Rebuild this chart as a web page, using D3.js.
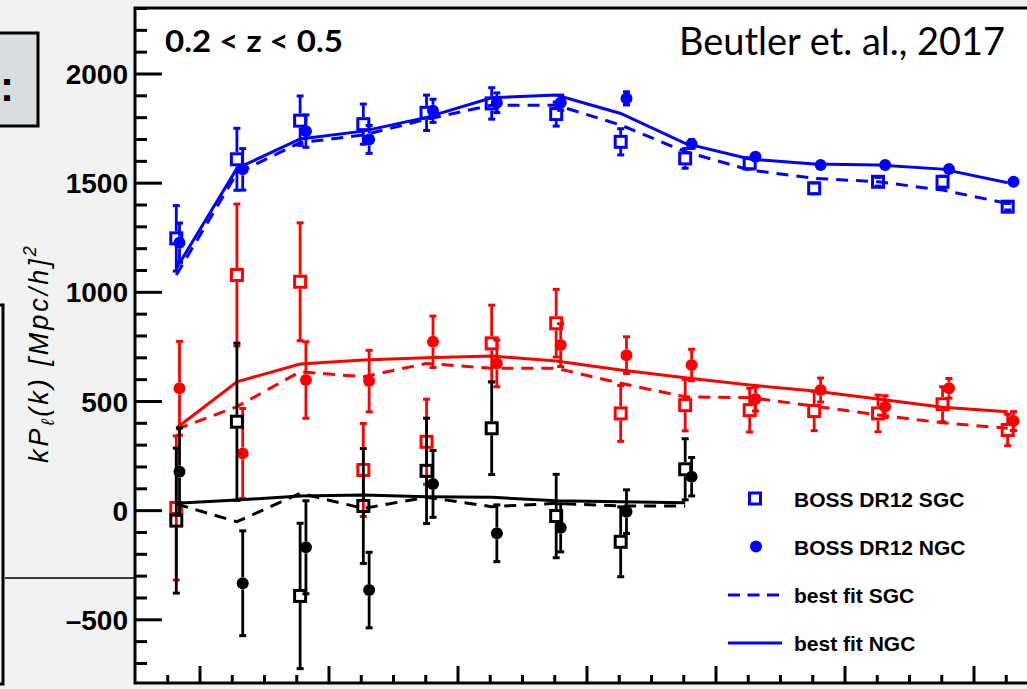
<!DOCTYPE html>
<html>
<head>
<meta charset="utf-8">
<script src="https://cdn.jsdelivr.net/npm/d3@7"></script>
<style>
  html, body { margin: 0; padding: 0; background: #f2f2f2; }
  svg { display: block; }
</style>
</head>
<body>
<svg id="chart" width="1027" height="689"></svg>
<script>
// Power-spectrum multipoles, BOSS DR12, 0.2 < z < 0.5
const kSGC = [0.0164, 0.0258, 0.0356, 0.0454, 0.0552, 0.0653, 0.0753, 0.0853, 0.0953, 0.1053, 0.1153, 0.1252, 0.1352, 0.1453];
const kNGC = [0.0169, 0.0267, 0.0365, 0.0463, 0.0562, 0.0661, 0.0760, 0.0862, 0.0963, 0.1062, 0.1163, 0.1263, 0.1362, 0.1462];

// monopole (l = 0)
const monoSGC    = [1245, 1607, 1784, 1768, 1820, 1863, 1814, 1687, 1611, 1588, 1474, 1504, 1504, 1390];
const monoSGCerr = [150, 142, 113, 92, 81, 72, 55, 60, 45, 25, 25, 20, 25, 15];
const monoNGC    = [1225, 1561, 1736, 1698, 1829, 1866, 1866, 1886, 1677, 1619, 1581, 1581, 1562, 1504];
const monoNGCerr = [90, 95, 74, 64, 53, 45, 35, 30, 20, 15, 12, 12, 10, 10];
const monoSGCfit = [1077, 1543, 1683, 1718, 1790, 1855, 1855, 1764, 1642, 1558, 1520, 1504, 1466, 1405];
const monoNGCfit = [1107, 1565, 1700, 1736, 1799, 1889, 1901, 1817, 1680, 1608, 1585, 1581, 1562, 1500];

// quadrupole (l = 2)
const quadSGC    = [10, 1077, 1046, 184, 313, 764, 856, 443, 481, 458, 454, 443, 485, 367];
const quadSGCerr = [330, 325, 270, 213, 195, 175, 155, 128, 118, 100, 90, 84, 80, 72];
const quadNGC    = [558, 260, 596, 591, 771, 672, 756, 710, 665, 509, 550, 474, 558, 408];
const quadNGCerr = [215, 206, 175, 141, 118, 107, 98, 84, 72, 55, 55, 50, 45, 43];
const quadSGCfit = [370, 474, 634, 611, 672, 650, 650, 581, 519, 515, 477, 436, 400, 375];
const quadNGCfit = [375, 588, 669, 688, 698, 706, 683, 642, 606, 573, 546, 509, 471, 451];

// hexadecapole (l = 4)
const hexaSGC    = [-48, 405, -393, 19, 180, 375, -27, -145, 187];
const hexaSGCerr = [332, 360, 333, 263, 241, 212, 191, 160, 140];
const hexaNGC    = [176, -335, -170, -366, 120, -106, -81, -7, 153];
const hexaNGCerr = [200, 240, 213, 173, 153, 130, 110, 100, 88];
const hexaSGCfit = [28, -53, 77, 8, 59, 16, 31, 19, 19];
const hexaNGCfit = [31, 46, 65, 69, 61, 59, 43, 39, 34];

const yMajor = [-500, 0, 500, 1000, 1500, 2000];
const legendLabels = ["BOSS DR12 SGC", "BOSS DR12 NGC", "best fit SGC", "best fit NGC"];

const svg = d3.select("#chart");
const W = 1027, H = 689;
const frame = { left: 135, top: 8, right: 1040, bottom: 683 };

const x = d3.scaleLinear().domain([0.01, 0.15]).range([frame.left, 1038]);
const y = d3.scaleLinear().domain([-500, 2000]).range([619.3, 73.5]);

// page background
svg.append("rect").attr("width", W).attr("height", H).attr("fill", "#f2f2f2");

// neighbouring panel pieces on the left
svg.append("rect").attr("x", -10).attr("y", 33).attr("width", 48).attr("height", 93)
  .attr("fill", "#d9dce0").attr("stroke", "#000").attr("stroke-width", 3);
svg.append("text").attr("x", 0).attr("y", 101).attr("font-family", "Liberation Sans, Arial, sans-serif")
  .attr("font-weight", "bold").attr("font-size", 42).attr("fill", "#000").text(":");
svg.append("rect").attr("x", -12).attr("y", 305).attr("width", 15).attr("height", 379)
  .attr("fill", "#f2f2f2").attr("stroke", "#000").attr("stroke-width", 3);
svg.append("line").attr("x1", 5).attr("x2", frame.left).attr("y1", 578).attr("y2", 578)
  .attr("stroke", "#000").attr("stroke-width", 1.5);

// plot area
svg.append("rect").attr("x", frame.left).attr("y", frame.top)
  .attr("width", frame.right - frame.left).attr("height", frame.bottom - frame.top)
  .attr("fill", "#fff");

svg.append("clipPath").attr("id", "plotclip").append("rect")
  .attr("x", frame.left).attr("y", frame.top)
  .attr("width", frame.right - frame.left).attr("height", frame.bottom - frame.top);

const plot = svg.append("g").attr("clip-path", "url(#plotclip)");

// y axis ticks (pointing into the plot) and labels
const yMinor = d3.range(-700, 2301, 100).filter(v => v % 500 !== 0);
svg.append("g").attr("transform", `translate(${frame.left},0)`)
  .call(d3.axisRight(y).tickValues(yMinor).tickSize(12).tickFormat(""))
  .call(g => g.select(".domain").remove())
  .selectAll("line").attr("stroke", "#000").attr("stroke-width", 3);
svg.append("g").attr("transform", `translate(${frame.left},0)`)
  .call(d3.axisRight(y).tickValues(yMajor).tickSize(27).tickFormat(""))
  .call(g => g.select(".domain").remove())
  .selectAll("line").attr("stroke", "#000").attr("stroke-width", 3);
const yLab = svg.append("g").attr("transform", `translate(${frame.left},0)`)
  .call(d3.axisLeft(y).tickValues(yMajor).tickSize(0).tickPadding(7).tickFormat(d => d < 0 ? "\u2013" + Math.abs(d) : String(d)));
yLab.select(".domain").remove();
yLab.selectAll("text").attr("font-family", "Liberation Sans, Arial, sans-serif")
  .attr("font-weight", "bold").attr("font-size", 28).attr("fill", "#000").attr("dy", "0.36em");

// x axis ticks (pointing up)
const xMajor = d3.range(0.02, 0.1401, 0.02);
const xMinor = d3.range(0.015, 0.15, 0.005).filter(v => Math.abs(Math.round(v / 0.02) * 0.02 - v) > 1e-6);
svg.append("g").attr("transform", `translate(0,${frame.bottom})`)
  .call(d3.axisTop(x).tickValues(xMinor).tickSize(8).tickFormat(""))
  .call(g => g.select(".domain").remove())
  .selectAll("line").attr("stroke", "#000").attr("stroke-width", 3);
svg.append("g").attr("transform", `translate(0,${frame.bottom})`)
  .call(d3.axisTop(x).tickValues(xMajor).tickSize(17).tickFormat(""))
  .call(g => g.select(".domain").remove())
  .selectAll("line").attr("stroke", "#000").attr("stroke-width", 3);

// frame
svg.append("rect").attr("x", frame.left).attr("y", frame.top)
  .attr("width", frame.right - frame.left).attr("height", frame.bottom - frame.top)
  .attr("fill", "none").attr("stroke", "#000").attr("stroke-width", 3);

// series drawing
const line = d3.line();
function drawFit(ks, vals, color, dashed) {
  plot.append("path")
    .attr("d", line(vals.map((v, i) => [x(ks[i]), y(v)])))
    .attr("fill", "none").attr("stroke", color).attr("stroke-width", 3)
    .attr("stroke-dasharray", dashed ? "12,8" : null);
}
function drawPoints(ks, vals, errs, color, shape) {
  const g = plot.append("g");
  const half = shape === "square" ? 7 : 6;
  vals.forEach((v, i) => {
    const cx = x(ks[i]), cy = y(v);
    const yt = y(v + errs[i]), yb = y(v - errs[i]);
    if (cy - half > yt) {
      g.append("line").attr("x1", cx).attr("x2", cx).attr("y1", yt).attr("y2", cy - half)
        .attr("stroke", color).attr("stroke-width", 2.8);
    }
    if (yb > cy + half) {
      g.append("line").attr("x1", cx).attr("x2", cx).attr("y1", cy + half).attr("y2", yb)
        .attr("stroke", color).attr("stroke-width", 2.8);
    }
    [yt, yb].forEach(ye => g.append("line").attr("x1", cx - 3.5).attr("x2", cx + 3.5)
      .attr("y1", ye).attr("y2", ye).attr("stroke", color).attr("stroke-width", 3));
    if (shape === "square") {
      g.append("rect").attr("x", cx - 5.5).attr("y", cy - 5.5).attr("width", 11).attr("height", 11)
        .attr("fill", "none").attr("stroke", color).attr("stroke-width", 3);
    } else {
      g.append("circle").attr("cx", cx).attr("cy", cy).attr("r", 6).attr("fill", color);
    }
  });
}

const blue = "#0000ff", red = "#ff0000", black = "#000000";

drawFit(kSGC, monoSGCfit, blue, true);
drawFit(kSGC, monoNGCfit, blue, false);
drawPoints(kSGC, monoSGC, monoSGCerr, blue, "square");
drawPoints(kNGC, monoNGC, monoNGCerr, blue, "circle");

drawFit(kSGC, quadSGCfit, red, true);
drawFit(kSGC, quadNGCfit, red, false);
drawPoints(kSGC, quadSGC, quadSGCerr, red, "square");
drawPoints(kNGC, quadNGC, quadNGCerr, red, "circle");

drawFit(kSGC.slice(0, hexaSGCfit.length), hexaSGCfit, black, true);
drawFit(kSGC.slice(0, hexaNGCfit.length), hexaNGCfit, black, false);
drawPoints(kSGC, hexaSGC, hexaSGCerr, black, "square");
drawPoints(kNGC, hexaNGC, hexaNGCerr, black, "circle");

// annotations
svg.append("text").attr("x", 165).attr("y", 52)
  .attr("font-family", "Liberation Sans Narrow, Lato, Open Sans, sans-serif").attr("font-weight", "bold")
  .attr("font-size", 30).attr("textLength", 178).attr("lengthAdjust", "spacingAndGlyphs")
  .attr("fill", "#000").text("0.2 < z < 0.5");
svg.append("text").attr("x", 679).attr("y", 55)
  .attr("font-family", "Lato, Open Sans, sans-serif")
  .attr("font-size", 39).attr("textLength", 326).attr("lengthAdjust", "spacingAndGlyphs")
  .attr("fill", "#000").text("Beutler et. al., 2017");

// y axis title
const yt = svg.append("text")
  .attr("transform", "translate(48,463) rotate(-90)")
  .attr("font-family", "Liberation Sans, Arial, sans-serif").attr("font-style", "italic")
  .attr("font-size", 27).attr("fill", "#000").attr("letter-spacing", 3);
yt.append("tspan").text("kP");
yt.append("tspan").attr("font-size", 18).attr("dy", 6).text("\u2113");
yt.append("tspan").attr("dy", -6).text("(k)  [Mpc/h]");
yt.append("tspan").attr("font-size", 18).attr("dy", -12).text("2");

// legend
const legend = svg.append("g").attr("font-family", "Liberation Sans, Arial, sans-serif")
  .attr("font-weight", "bold").attr("font-size", 21).attr("fill", "#000");
const rowY = [498.5, 546.5, 595, 643];
legend.append("rect").attr("x", 749.5).attr("y", rowY[0] - 5.5).attr("width", 11).attr("height", 11)
  .attr("fill", "none").attr("stroke", blue).attr("stroke-width", 3);
legend.append("circle").attr("cx", 756).attr("cy", rowY[1]).attr("r", 6).attr("fill", blue);
legend.append("line").attr("x1", 728).attr("x2", 779).attr("y1", rowY[2]).attr("y2", rowY[2])
  .attr("stroke", blue).attr("stroke-width", 3).attr("stroke-dasharray", "12,7.5");
legend.append("line").attr("x1", 728).attr("x2", 782).attr("y1", rowY[3]).attr("y2", rowY[3])
  .attr("stroke", blue).attr("stroke-width", 3);
legendLabels.forEach((t, i) => {
  legend.append("text").attr("x", 794).attr("y", rowY[i] + 8).text(t);
});
</script>
</body>
</html>
